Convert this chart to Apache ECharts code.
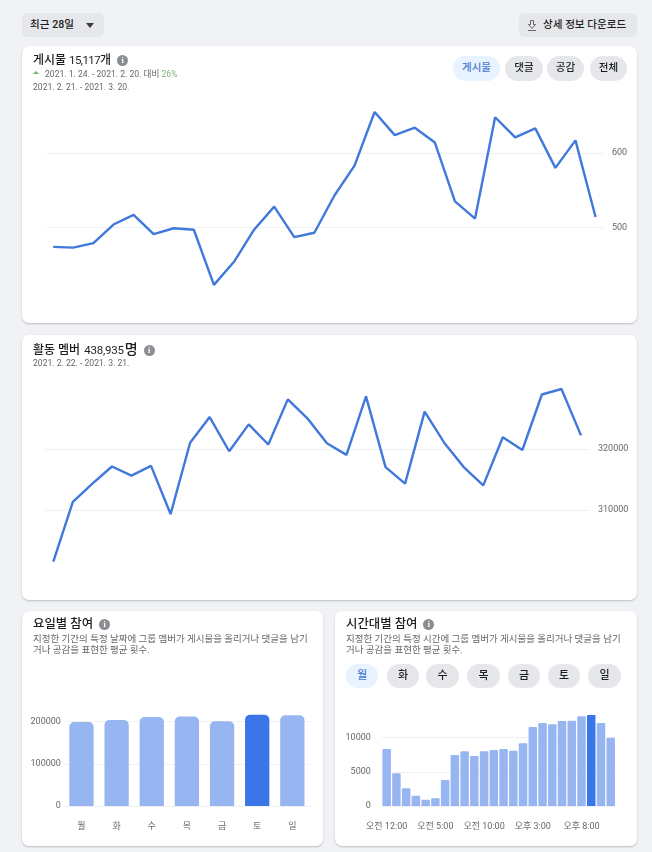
<!DOCTYPE html>
<html lang="ko">
<head>
<meta charset="utf-8">
<title>그룹 인사이트</title>
<script src="https://cdn.jsdelivr.net/npm/echarts@6/dist/echarts.min.js"></script>
<style>
  html, body { margin: 0; padding: 0; }
  body {
    position: relative; width: 652px; height: 852px; overflow: hidden; background: #f0f2f5;
    font-family: Roboto, "Noto Sans CJK KR", sans-serif; color: #1c1e21;
  }
  .abs, .card, .btn, .pill, .chart { position: absolute; }
  .card { background: #fff; border-radius: 7px; box-shadow: 0 1px 2px rgba(0, 0, 0, .22); }
  .btn { background: #e6e7ea; border-radius: 5px; top: 13px; height: 24px; line-height: 23px; font-size: 10.6px; font-weight: 500; white-space: nowrap; }
  .pill { background: #e6e7ea; border-radius: 13px; text-align: center; font-size: 10.5px; font-weight: 500; color: #1c1e21; }
  .pill.on { background: #e7f3ff; color: #4a78d0; }
  .top-pill { top: 56px; height: 25px; line-height: 24px; }
  .day-pill { top: 664px; height: 24px; line-height: 23px; font-size: 11px; }
  .title { font-size: 12px; font-weight: 500; line-height: 14px; white-space: nowrap; }
  .num { font-size: 11.5px; font-weight: 400; letter-spacing: -0.6px; }
  .num.wide { letter-spacing: -0.2px; margin: 0 1px; }
  .tail { font-size: 14px; }
  .big { font-size: 12.4px; }
  .sub { font-size: 8.6px; line-height: 11px; color: #65676b; white-space: nowrap; }
  .desc { font-size: 9.5px; line-height: 11px; color: #65676b; white-space: nowrap; }
  .info {
    display: inline-block; width: 11px; height: 11px; border-radius: 50%; background: #8a8d91; color: #fff;
    font: bold 8px/11px "Liberation Serif", serif; text-align: center; margin-left: 6px; vertical-align: 1px;
  }
</style>
</head>
<body>
  <div class="btn" style="left:22px;width:82px;"><span style="margin-left:8px;">최근 28일</span>
    <span class="abs" style="left:64px;top:10px;width:0;height:0;border:4px solid transparent;border-top:5px solid #3a3b3c;border-bottom:0;"></span></div>
  <div class="btn" style="left:519px;width:118px;">
    <svg class="abs" style="left:7px;top:6px;" width="12" height="13" viewBox="0 0 12 13"><path d="M4.5 1.5h3v4h2L6 9.5 2.5 5.500h2zM2 11.500h8" fill="none" stroke="#65676b" stroke-width="1"/></svg>
    <span style="margin-left:24px;">상세 정보 다운로드</span></div>

  <div class="card" style="left:22px;top:46px;width:615px;height:277px;"></div>
  <div class="card" style="left:22px;top:335px;width:615px;height:265px;"></div>
  <div class="card" style="left:22px;top:611px;width:301px;height:235px;"></div>
  <div class="card" style="left:335px;top:611px;width:302px;height:235px;"></div>

  <div class="chart" id="postsChart" style="left:22px;top:46px;width:615px;height:277px;"></div>
  <div class="chart" id="membersChart" style="left:22px;top:335px;width:615px;height:265px;"></div>
  <div class="chart" id="weekdayChart" style="left:22px;top:611px;width:301px;height:235px;"></div>
  <div class="chart" id="hourChart" style="left:335px;top:611px;width:302px;height:235px;"></div>

  <div class="abs title" style="left:33px;top:53px;">게시물 <span class="num">15,117</span>개<span class="info">i</span></div>
  <div class="abs" style="left:33px;top:71px;width:0;height:0;border:3px solid transparent;border-bottom:3px solid #6fb36f;border-top:0;"></div>
  <div class="abs sub" style="left:45px;top:69px;">2021. 1. 24. - 2021. 2. 20. 대비 <span style="color:#7fb77e;">26%</span></div>
  <div class="abs sub" style="left:33px;top:82px;">2021. 2. 21. - 2021. 3. 20.</div>
  <div class="pill top-pill on" style="left:453px;width:47px;">게시물</div>
  <div class="pill top-pill" style="left:505px;width:38px;">댓글</div>
  <div class="pill top-pill" style="left:547px;width:37px;">공감</div>
  <div class="pill top-pill" style="left:590px;width:37px;">전체</div>

  <div class="abs title" style="left:33px;top:342px;">활동 멤버 <span class="num wide">438,935</span><span class="tail">명</span><span class="info">i</span></div>
  <div class="abs sub" style="left:33px;top:358px;">2021. 2. 22. - 2021. 3. 21.</div>

  <div class="abs title big" style="left:33px;top:617px;">요일별 참여<span class="info">i</span></div>
  <div class="abs desc" style="left:33px;top:633px;">지정한 기간의 특정 날짜에 그룹 멤버가 게시물을 올리거나 댓글을 남기<br>거나 공감을 표현한 평균 횟수.</div>

  <div class="abs title big" style="left:346px;top:617px;">시간대별 참여<span class="info">i</span></div>
  <div class="abs desc" style="left:346px;top:633px;">지정한 기간의 특정 시간에 그룹 멤버가 게시물을 올리거나 댓글을 남기<br>거나 공감을 표현한 평균 횟수.</div>
  <div class="pill day-pill on" style="left:346px;width:32px;">월</div>
  <div class="pill day-pill" style="left:387px;width:32px;">화</div>
  <div class="pill day-pill" style="left:426px;width:33px;">수</div>
  <div class="pill day-pill" style="left:467px;width:33px;">목</div>
  <div class="pill day-pill" style="left:508px;width:32px;">금</div>
  <div class="pill day-pill" style="left:548px;width:32px;">토</div>
  <div class="pill day-pill" style="left:588px;width:33px;">일</div>

<script>
const postValues = [474, 473, 479, 504, 517, 491, 499, 497, 423, 454, 497, 528, 487, 493,
  543, 583, 655, 624, 634, 614, 535, 512, 648, 621, 633, 580, 617, 514];
const memberValues = [301500, 311300, 314300, 317100, 315600, 317200, 309300, 321000, 325200, 319600,
  324000, 320700, 328100, 325000, 320900, 319000, 328600, 317000, 314300, 326100,
  321000, 317000, 314000, 321900, 319800, 328900, 329800, 322200];
const weekdayLabels = ['월', '화', '수', '목', '금', '토', '일'];
const weekdayValues = [199000, 204000, 211000, 212000, 201000, 216000, 215000];
const hourLabels = ['오전 12:00', '오전 1:00', '오전 2:00', '오전 3:00', '오전 4:00', '오전 5:00', '오전 6:00', '오전 7:00',
  '오전 8:00', '오전 9:00', '오전 10:00', '오전 11:00', '오후 12:00', '오후 1:00', '오후 2:00', '오후 3:00',
  '오후 4:00', '오후 5:00', '오후 6:00', '오후 7:00', '오후 8:00', '오후 9:00', '오후 10:00', '오후 11:00'];
const hourValues = [8340, 4780, 2590, 1510, 930, 1120, 3800, 7460, 8000, 7320, 8000, 8200,
  8340, 8100, 9170, 11560, 12150, 11950, 12440, 12490, 13120, 13320, 12150, 10000];

const FONT = 'Roboto, "Noto Sans CJK KR", sans-serif';
const GREY = '#65676b';
const GRID_LINE = '#f0f1f3';
const LINE_BLUE = '#4178dc';
const BAR_LIGHT = '#97b6f1';
const BAR_DARK = '#3a76e8';

function lineOption(values, grid, xMin, xMax, yMin, yMax, yStep, labelMargin) {
  return {
    animation: false,
    textStyle: { fontFamily: FONT },
    grid,
    xAxis: { type: 'value', min: xMin, max: xMax, show: false },
    yAxis: {
      type: 'value',
      position: 'right',
      min: yMin,
      max: yMax,
      interval: yStep,
      axisLine: { show: false },
      axisTick: { show: false },
      axisLabel: { color: GREY, fontSize: 9, margin: labelMargin, showMinLabel: false, showMaxLabel: false, formatter: (v) => String(v) },
      splitLine: { showMinLine: false, showMaxLine: false, lineStyle: { color: GRID_LINE } },
    },
    series: [{
      type: 'line',
      data: values.map((v, i) => [i, v]),
      showSymbol: false,
      lineStyle: { color: LINE_BLUE, width: 2.4 },
    }],
  };
}

function barOption(labels, values, grid, yMax, yStep, barWidth, radius, labelInterval, yMargin) {
  const peak = values.indexOf(Math.max(...values));
  return {
    animation: false,
    textStyle: { fontFamily: FONT },
    grid,
    xAxis: {
      type: 'category',
      data: labels,
      axisLine: { lineStyle: { color: GRID_LINE } },
      axisTick: { show: false },
      axisLabel: { color: GREY, fontSize: 9, margin: 16, interval: labelInterval, hideOverlap: false },
    },
    yAxis: {
      type: 'value',
      min: 0,
      max: yMax,
      interval: yStep,
      axisLine: { show: false },
      axisTick: { show: false },
      axisLabel: { color: GREY, fontSize: 9, margin: yMargin, showMaxLabel: false, formatter: (v) => String(v) },
      splitLine: { showMinLine: false, showMaxLine: false, lineStyle: { color: GRID_LINE } },
    },
    series: [{
      type: 'bar',
      data: values,
      barWidth,
      itemStyle: {
        borderRadius: [radius, radius, 0, 0],
        color: (p) => (p.dataIndex === peak ? BAR_DARK : BAR_LIGHT),
      },
    }],
  };
}

echarts.init(document.getElementById('postsChart')).setOption(
  lineOption(postValues, { left: 24, width: 558, top: 32.500, height: 223.500 }, -0.36, 27.42, 400, 700, 100, 8));
echarts.init(document.getElementById('membersChart')).setOption(
  lineOption(memberValues, { left: 23, width: 544, top: 52.800, height: 183 }, -0.425, 27.41, 300000, 330000, 10000, 9));
echarts.init(document.getElementById('weekdayChart')).setOption(
  barOption(weekdayLabels, weekdayValues, { left: 41.900, width: 246, top: 68.400, height: 126.600 }, 300000, 100000, 24.300, 5, 0, 3));
echarts.init(document.getElementById('hourChart')).setOption(
  barOption(hourLabels, hourValues, { left: 46.800, width: 233.800, top: 92.500, height: 102.500 }, 15000, 5000, 8.500, 1, 4, 11));
</script>
</body>
</html>
